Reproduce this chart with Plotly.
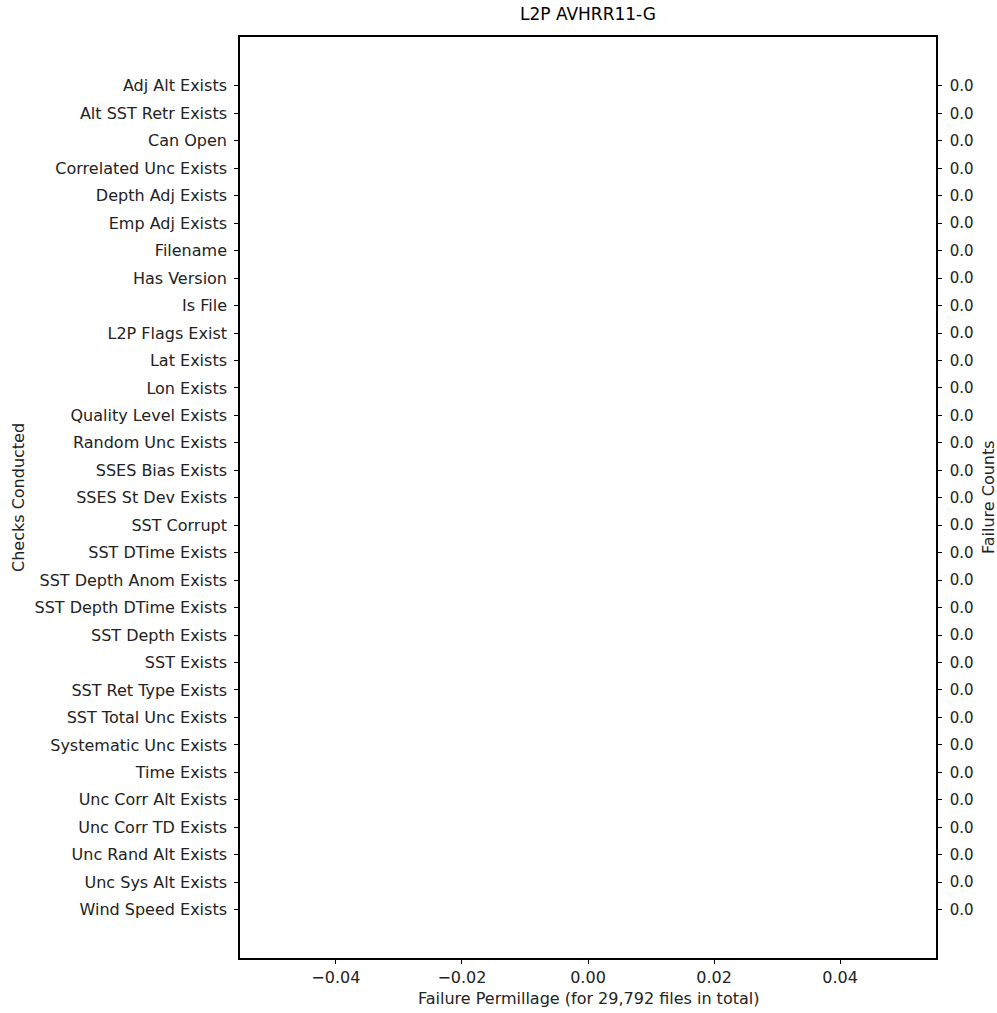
import plotly.graph_objects as go

title = "L2P AVHRR11-G"
checks = [
    "Adj Alt Exists", "Alt SST Retr Exists", "Can Open", "Correlated Unc Exists",
    "Depth Adj Exists", "Emp Adj Exists", "Filename", "Has Version", "Is File",
    "L2P Flags Exist", "Lat Exists", "Lon Exists", "Quality Level Exists",
    "Random Unc Exists", "SSES Bias Exists", "SSES St Dev Exists", "SST Corrupt",
    "SST DTime Exists", "SST Depth Anom Exists", "SST Depth DTime Exists",
    "SST Depth Exists", "SST Exists", "SST Ret Type Exists", "SST Total Unc Exists",
    "Systematic Unc Exists", "Time Exists", "Unc Corr Alt Exists", "Unc Corr TD Exists",
    "Unc Rand Alt Exists", "Unc Sys Alt Exists", "Wind Speed Exists",
]
permillage = [0.0] * len(checks)
failure_counts = [0.0] * len(checks)
total_files = 29792
x_ticks = [-0.04, -0.02, 0.0, 0.02, 0.04]
x_tick_labels = ["\u22120.04", "\u22120.02", "0.00", "0.02", "0.04"]

n = len(checks)
idx = list(range(n))
FONT = "DejaVu Sans"
FS = 16
yrange = [n - 1 + 1.76, -1.78]

W, H = 997, 1013
L, R, T, B = 240, 936, 37, 958


def px(xp, yp):
    """page pixel -> paper coords (plot-area based)"""
    return (xp - L) / (R - L), (B - yp) / (B - T)


fig = go.Figure()
fig.add_trace(go.Bar(x=permillage, y=idx, orientation="h", marker_color="#1f77b4",
                     marker_line_width=0, width=0.8, showlegend=False, hoverinfo="skip"))
fig.add_trace(go.Bar(x=permillage, y=idx, orientation="h", yaxis="y2",
                     marker_color="rgba(0,0,0,0)", marker_line_width=0,
                     width=0.8, showlegend=False, hoverinfo="skip"))

axis_common = dict(showgrid=False, zeroline=False, showline=True, linecolor="black",
                   linewidth=1.6, ticks="outside", ticklen=4, tickwidth=1,
                   tickcolor="black", automargin=False)

xl = px((L + R) / 2, 998)
yl = px(18, 497)
yr = px(988, 497)

fig.update_layout(
    width=W, height=H,
    margin=dict(l=L, r=W - R, t=T, b=H - B),
    paper_bgcolor="white", plot_bgcolor="white",
    title=dict(text=title, x=0.5, xref="paper", xanchor="center",
               y=1 - 14 / H, yanchor="middle",
               font=dict(family=FONT, size=17, color="black")),
    xaxis=dict(range=[-0.0552, 0.0552], tickvals=x_ticks, ticktext=x_tick_labels,
               mirror=True, tickfont=dict(family=FONT, size=FS, color="#222222"),
               **axis_common),
    yaxis=dict(range=yrange, tickvals=idx, ticktext=checks, ticklabelstandoff=4,
               tickfont=dict(family=FONT, size=FS, color="#222222"), **axis_common),
    yaxis2=dict(range=yrange, tickvals=idx,
                ticktext=[f"{v:.1f}" for v in failure_counts],
                overlaying="y", side="right", ticklabelstandoff=5,
                tickfont=dict(family=FONT, size=15, color="#222222"), **axis_common),
    annotations=[
        dict(text=f"Failure Permillage (for {total_files:,} files in total)",
             x=xl[0], y=xl[1], xref="paper", yref="paper",
             xanchor="center", yanchor="middle", showarrow=False,
             font=dict(family=FONT, size=FS, color="#222222")),
        dict(text="Checks Conducted", x=yl[0], y=yl[1],
             xref="paper", yref="paper", xanchor="center", yanchor="middle",
             showarrow=False, textangle=-90,
             font=dict(family=FONT, size=FS, color="#222222")),
        dict(text="Failure Counts", x=yr[0], y=yr[1],
             xref="paper", yref="paper", xanchor="center", yanchor="middle",
             showarrow=False, textangle=-90,
             font=dict(family=FONT, size=FS, color="#222222")),
    ],
)

fig.write_html(
    "out.html",
    config={"displayModeBar": False},
    post_script="document.body.style.margin='0';document.body.style.overflow='hidden';",
)
